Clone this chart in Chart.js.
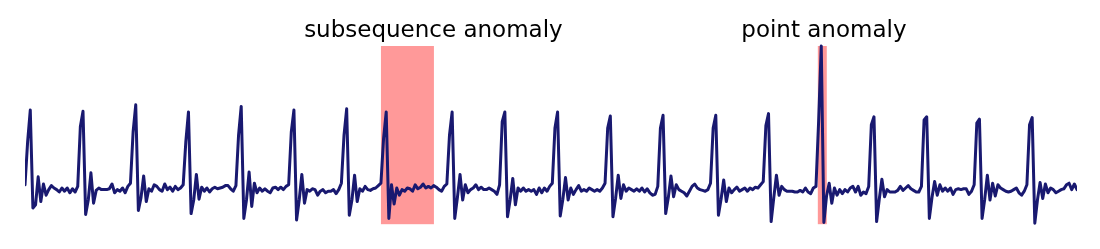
<!DOCTYPE html>
<html>
<head>
<meta charset="utf-8">
<script src="https://cdn.jsdelivr.net/npm/chart.js"></script>
<style>
  body { margin: 0; background: white; }
  canvas { display: block; }
</style>
</head>
<body>
<canvas id="ecg-chart" width="1100" height="249"></canvas>
<script>
/* ECG signal, one row per beat (20 samples each) */
let ecg = [
    0.04, 0.58, 0.975, -0.25, -0.21, 0.14, -0.17, 0.05, -0.09, -0.02, 0.03, 0.0, -0.02, -0.05, 0.0, -0.04, 0.0, -0.06, -0.01, -0.05,
    0.02, 0.77, 0.96, -0.33, -0.15, 0.19, -0.19, -0.03, 0.0, -0.02, -0.02, -0.02, -0.01, 0.05, -0.06, -0.02, -0.04, 0.0, -0.06, 0.02,
    0.06, 0.7, 1.04, -0.28, -0.12, 0.15, -0.17, -0.01, -0.04, 0.04, 0.02, -0.02, -0.04, 0.05, -0.02, 0.01, -0.04, 0.02, -0.02, 0.0,
    0.04, 0.58, 0.95, -0.32, -0.15, 0.17, -0.14, 0.01, -0.04, 0.0, -0.05, -0.01, 0.01, -0.01, 0.0, 0.01, 0.03, 0.03, -0.01, -0.04,
    0.03, 0.66, 1.02, -0.38, -0.15, 0.2, -0.23, 0.06, -0.06, 0.0, -0.04, -0.01, -0.04, -0.06, 0.0, 0.01, -0.02, 0.01, -0.02, 0.02,
    0.04, 0.7, 0.975, -0.4, -0.15, 0.17, -0.19, -0.02, -0.04, -0.01, -0.02, -0.09, -0.04, -0.02, -0.06, -0.04, -0.04, -0.02, -0.07, -0.02,
    0.06, 0.66, 0.99, -0.34, -0.15, 0.16, -0.17, -0.01, -0.04, 0.02, -0.02, -0.03, -0.01, 0.0, 0.03, 0.06, 0.62, 0.95, -0.38, 0.04,
    -0.2, 0.0, -0.09, -0.02, -0.04, 0.0, -0.01, -0.04, 0.04, -0.01, 0.01, 0.05, 0.0, 0.02, 0.0, 0.03, 0.01, -0.02, -0.04, 0.02,
    0.05, 0.66, 0.95, -0.38, -0.12, 0.17, -0.15, 0.04, -0.06, -0.02, 0.0, 0.04, -0.02, 0.01, -0.02, -0.02, 0.0, -0.02, -0.04, -0.08,
    0.04, 0.83, 0.95, -0.36, -0.15, 0.12, -0.21, 0.0, -0.04, 0.0, -0.04, -0.02, -0.04, -0.02, -0.08, 0.0, -0.06, 0.0, -0.04, 0.02,
    0.06, 0.75, 0.95, -0.35, -0.14, 0.13, -0.15, 0.0, -0.08, -0.02, 0.03, -0.04, -0.02, -0.04, 0.0, -0.02, -0.04, -0.02, -0.04, 0.0,
    0.06, 0.75, 0.9, -0.36, -0.13, 0.16, -0.13, 0.04, -0.04, 0.0, -0.02, -0.04, -0.01, -0.04, 0.0, -0.05, -0.01, -0.06, -0.09, -0.08,
    0.02, 0.75, 0.91, -0.32, -0.12, 0.15, -0.11, 0.04, -0.02, -0.04, -0.06, -0.1, -0.04, 0.02, 0.05, 0.0, -0.02, -0.03, -0.04, -0.02,
    0.06, 0.75, 0.91, -0.34, -0.14, 0.1, -0.17, 0.0, -0.06, -0.02, 0.01, -0.04, -0.02, 0.0, -0.04, 0.0, -0.02, 0.01, 0.0, 0.04,
    0.08, 0.78, 0.93, -0.42, -0.12, 0.16, -0.09, 0.02, -0.02, -0.04, -0.04, -0.04, -0.05, -0.05, -0.03, -0.05, 0.0, -0.05, -0.07, 0.0,
    0.02, 0.83, 1.775, -0.43, -0.1, 0.06, -0.19, 0.0, -0.09, -0.02, -0.07, -0.02, -0.05, 0.0, 0.02, -0.05, 0.02, -0.09, -0.05, -0.07,
    0.02, 0.79, 0.89, -0.42, -0.14, 0.11, -0.11, -0.02, -0.05, -0.05, -0.05, -0.03, 0.02, -0.03, 0.0, 0.03, -0.01, -0.03, -0.05, -0.05,
    0.02, 0.85, 0.89, -0.38, -0.12, 0.08, -0.09, 0.04, -0.04, 0.0, -0.04, 0.0, -0.08, -0.02, -0.01, -0.02, -0.01, -0.01, -0.08, -0.04,
    0.04, 0.81, 0.86, -0.38, -0.14, 0.16, -0.15, 0.06, -0.1, 0.04, 0.0, -0.02, -0.04, -0.05, -0.04, -0.02, 0.0, -0.06, -0.09, -0.04,
    0.04, 0.79, 0.88, -0.44, -0.15, 0.07, -0.13, 0.05, -0.06, 0.0, -0.02, -0.06, -0.04, -0.02, -0.01, 0.04, 0.06, -0.02, 0.05, -0.02
]

/* Anomaly spans, in sample units */
let anomalyNames = [ 'subsequence anomaly', 'point anomaly' ]
let anomalyStart = [ 135.0, 300.7 ]
let anomalyEnd = [ 155.1, 304.1 ]
let labelAt = [ 154.9, 303.0 ]  // where each caption is centred

let signalPoints = ecg.map(function(v, i) { return { x: i, y: v } })

let yLow = Math.min(...ecg)
let yHigh = Math.max(...ecg)

/* Pink spans drawn under the line, captions on top */
let spanPlugin = {
    id: 'spans',
    beforeDatasetsDraw(chart) {
        let ctx = chart.ctx
        let xs = chart.scales.x
        let ys = chart.scales.y
        ctx.save()
        ctx.fillStyle = 'rgba(255, 0, 0, 0.4)'
        for (let i = 0; i < anomalyNames.length; i++) {
            let left = xs.getPixelForValue(anomalyStart[i])
            let right = xs.getPixelForValue(anomalyEnd[i])
            let top = ys.getPixelForValue(yHigh)
            let bottom = ys.getPixelForValue(yLow) + 1
            ctx.fillRect(left, top, right - left, bottom - top)
        }
        ctx.restore()
    },
    afterDraw(chart) {
        let ctx = chart.ctx
        let xs = chart.scales.x
        ctx.save()
        ctx.font = '23px "DejaVu Sans"'
        ctx.fillStyle = 'black'
        ctx.textAlign = 'center'
        ctx.textBaseline = 'alphabetic'
        for (let i = 0; i < anomalyNames.length; i++) {
            ctx.fillText(anomalyNames[i], xs.getPixelForValue(labelAt[i]), 37)
        }
        ctx.restore()
    }
}

let ctx = document.querySelector('#ecg-chart').getContext('2d')

let ecgChart = new Chart(ctx, {
    type: 'line',
    data: {
        datasets: [ {
            data: signalPoints,
            borderColor: '#191970',
            borderWidth: 3,
            borderJoinStyle: 'round',
            borderCapStyle: 'round',
            pointRadius: 0,
            tension: 0,
            fill: false
        } ]
    },
    options: {
        responsive: false,
        animation: false,
        devicePixelRatio: 1,
        layout: { padding: { left: 25, right: 23, top: 40, bottom: 17 } },
        scales: {
            x: { type: 'linear', min: 0, max: ecg.length - 1, display: false },
            y: { min: -0.55, max: 1.85, display: false }
        },
        plugins: {
            legend: { display: false },
            tooltip: { enabled: false }
        }
    },
    plugins: [ spanPlugin ]
})
</script>
</body>
</html>
